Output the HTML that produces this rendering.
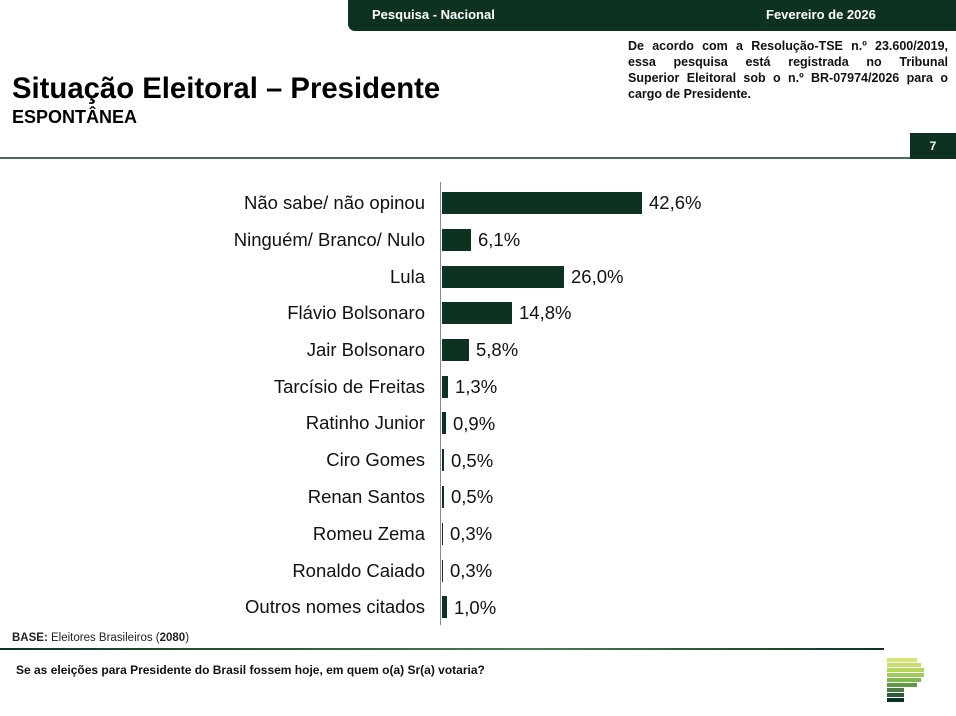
<!DOCTYPE html>
<html><head><meta charset="utf-8"><style>
body{margin:0;width:956px;height:716px;background:#fff;font-family:"Liberation Sans",Arial,sans-serif;position:relative;overflow:hidden}
.a{position:absolute}
.lab{position:absolute;right:531px;font-size:18.5px;color:#111;white-space:nowrap;transform:translateY(-50%)}
.bar{position:absolute;left:442px;height:22px;background:#0d3320;transform:translateY(-50%)}
.val{position:absolute;font-size:18.5px;color:#111;transform:translateY(-50%)}
.dl{text-align:justify;text-align-last:justify;white-space:nowrap;height:16px}
</style></head><body>
<div class="a" style="left:348px;top:0;width:608px;height:31px;background:#0d3320;border-bottom-left-radius:7px"></div>
<div class="a" style="left:372px;top:7px;color:#fff;font-weight:bold;font-size:13px">Pesquisa - Nacional</div>
<div class="a" style="left:766px;top:7px;color:#fff;font-weight:bold;font-size:13px">Fevereiro de 2026</div>
<div class="a" style="left:628px;top:38px;width:320px;font-weight:bold;font-size:12.5px;line-height:16px;color:#111">
<div class="dl">De acordo com a Resolução-TSE n.º 23.600/2019,</div>
<div class="dl">essa pesquisa está registrada no Tribunal</div>
<div class="dl">Superior Eleitoral sob o n.º BR-07974/2026 para o</div>
<div>cargo de Presidente.</div></div>
<div class="a" style="left:12px;top:74px;font-weight:bold;font-size:29.3px;line-height:30px;color:#000;white-space:nowrap">Situação Eleitoral – Presidente</div>
<div class="a" style="left:12px;top:108px;font-weight:bold;font-size:18px;line-height:18px;color:#000">ESPONTÂNEA</div>
<div class="a" style="left:0;top:157px;width:910px;height:2px;background:#4a6e55"></div>
<div class="a" style="left:910px;top:133px;width:46px;height:26px;background:#0d3320;color:#fff;font-weight:bold;font-size:12px;text-align:center;line-height:26px">7</div>
<div class="a" style="left:440px;top:182px;width:1px;height:443px;background:#888"></div>
<div class="lab" style="top:203px">Não sabe/ não opinou</div><div class="bar" style="top:203px;width:200px"></div><div class="val" style="top:203px;left:649px">42,6%</div>
<div class="lab" style="top:240px">Ninguém/ Branco/ Nulo</div><div class="bar" style="top:240px;width:29px"></div><div class="val" style="top:240px;left:478px">6,1%</div>
<div class="lab" style="top:277px">Lula</div><div class="bar" style="top:277px;width:122px"></div><div class="val" style="top:277px;left:571px">26,0%</div>
<div class="lab" style="top:313px">Flávio Bolsonaro</div><div class="bar" style="top:313px;width:70px"></div><div class="val" style="top:313px;left:519px">14,8%</div>
<div class="lab" style="top:350px">Jair Bolsonaro</div><div class="bar" style="top:350px;width:27px"></div><div class="val" style="top:350px;left:476px">5,8%</div>
<div class="lab" style="top:387px">Tarcísio de Freitas</div><div class="bar" style="top:387px;width:6px"></div><div class="val" style="top:387px;left:455px">1,3%</div>
<div class="lab" style="top:423px">Ratinho Junior</div><div class="bar" style="top:423px;width:4px"></div><div class="val" style="top:424px;left:453px">0,9%</div>
<div class="lab" style="top:460px">Ciro Gomes</div><div class="bar" style="top:460px;width:2px"></div><div class="val" style="top:461px;left:451px">0,5%</div>
<div class="lab" style="top:497px">Renan Santos</div><div class="bar" style="top:497px;width:2px"></div><div class="val" style="top:497px;left:451px">0,5%</div>
<div class="lab" style="top:534px">Romeu Zema</div><div class="bar" style="top:534px;width:1px"></div><div class="val" style="top:534px;left:450px">0,3%</div>
<div class="lab" style="top:571px">Ronaldo Caiado</div><div class="bar" style="top:571px;width:1px"></div><div class="val" style="top:571px;left:450px">0,3%</div>
<div class="lab" style="top:607px">Outros nomes citados</div><div class="bar" style="top:607px;width:5px"></div><div class="val" style="top:608px;left:454px">1,0%</div>
<div class="a" style="left:12px;top:632px;font-size:11.5px;color:#222"><b>BASE:</b> Eleitores Brasileiros (<b>2080</b>)</div>
<div class="a" style="left:0;top:648px;width:884px;height:2px;background:linear-gradient(90deg,#0d3320,#4a7a58 60%,#0d3320)"></div>
<div class="a" style="left:16px;top:663px;font-size:12px;font-weight:bold;color:#111">Se as eleições para Presidente do Brasil fossem hoje, em quem o(a) Sr(a) votaria?</div>
<div class="a" style="left:887px;top:658px;width:30px;height:4px;background:#d6e27a"></div>
<div class="a" style="left:887px;top:663px;width:34px;height:4px;background:#c9de6a"></div>
<div class="a" style="left:887px;top:668px;width:37px;height:4px;background:#b5d65e"></div>
<div class="a" style="left:887px;top:673px;width:37px;height:4px;background:#9fcc58"></div>
<div class="a" style="left:887px;top:678px;width:34px;height:4px;background:#7fb84e"></div>
<div class="a" style="left:887px;top:683px;width:30px;height:4px;background:#5e9a45"></div>
<div class="a" style="left:887px;top:688px;width:17px;height:4px;background:#4a7a45"></div>
<div class="a" style="left:887px;top:693px;width:17px;height:4px;background:#2c5a35"></div>
<div class="a" style="left:887px;top:698px;width:17px;height:4px;background:#0d3320"></div>
</body></html>
